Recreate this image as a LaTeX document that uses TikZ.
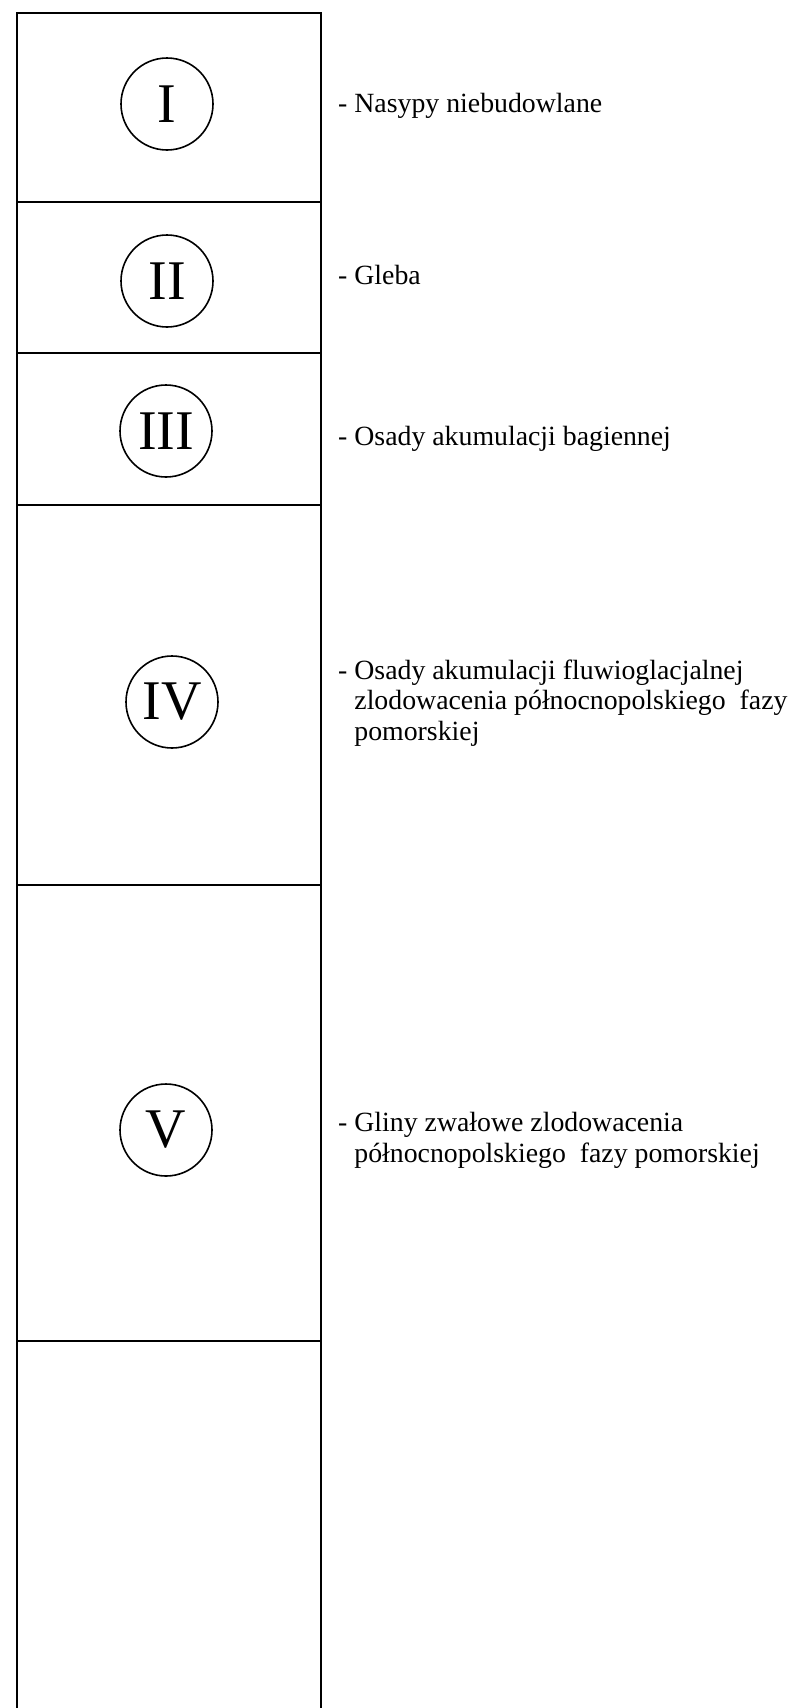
\documentclass[tikz,border=0pt]{standalone}
\usepackage{fontspec}
\setmainfont{Liberation Serif}
\begin{document}
\begin{tikzpicture}[x=1pt,y=-1pt,
  layerline/.style={line width=2pt},
  ring/.style={draw,circle,line width=1.6pt,minimum size=92pt,inner sep=0pt,
    font=\fontsize{56}{60}\selectfont},
  desc/.style={anchor=base west,inner sep=0pt,align=left,
    font=\fontsize{27.8}{30.5}\selectfont}]
\useasboundingbox (0,0) rectangle (799,1708);
% column frame
\coordinate (tl) at (17,13);
\coordinate (tr) at (321,13);
\coordinate (bl) at (17,1708);
\coordinate (br) at (321,1708);
\draw[layerline] (bl) -- (tl) -- (tr) -- (br);
% layer boundaries
\foreach \y/\n in {202/a,353/b,505/c,885/d,1341/e}{
  \coordinate (\n l) at (17,\y);
  \coordinate (\n r) at (321,\y);
  \draw[layerline] (\n l) -- (\n r);
}
% numerals
\node[ring] (r1) at (167,104) {I};
\node[ring] (r2) at (167,281) {II};
\node[ring] (r3) at (166,431) {III};
\node[ring] (r4) at (172,702) {IV};
\node[ring] (r5) at (166,1130) {V};
% descriptions (base anchor = baseline of the last line)
\node[desc] (t1) at (338,112) {- Nasypy niebudowlane};
\node[desc] (t2) at (338,284) {- Gleba};
\node[desc] (t3) at (338,445) {- Osady akumulacji bagiennej};
\node[desc] (t4) at (338,740) {- Osady akumulacji fluwioglacjalnej\\
  \hphantom{- }zlodowacenia północnopolskiego\ \ fazy\\
  \hphantom{- }pomorskiej};
\node[desc] (t5) at (338,1162) {- Gliny zwałowe zlodowacenia\\
  \hphantom{- }północnopolskiego\ \ fazy pomorskiej};
\end{tikzpicture}
\end{document}
